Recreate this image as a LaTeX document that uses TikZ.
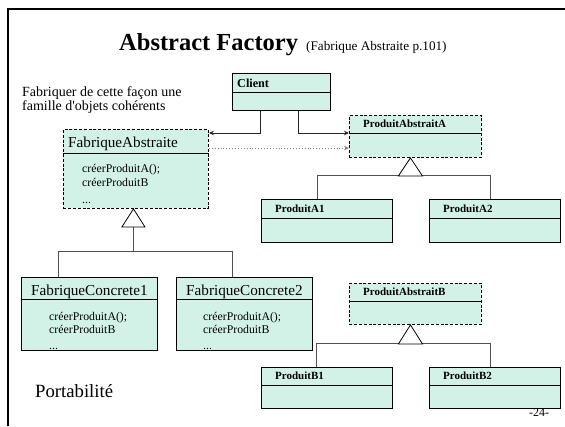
\documentclass[tikz,border=0pt]{standalone}
\usepackage{fontspec}
\setmainfont{Liberation Serif}
\usetikzlibrary{arrows.meta,calc}
\definecolor{boxfill}{RGB}{210,242,231}
\definecolor{inhline}{RGB}{80,80,80}
\definecolor{depline}{RGB}{130,130,130}
\tikzset{
  umlbox/.style={draw=black, line width=0.9pt, fill=boxfill, rectangle, inner sep=0pt, anchor=north west},
  abstractbox/.style={umlbox, dash pattern=on 3pt off 1.8pt},
  divider/.style={draw=black, line width=0.9pt},
  hdr/.style={anchor=base west, inner sep=0pt, font=\fontsize{11}{13}\selectfont\bfseries},
  bighdr/.style={anchor=base west, inner sep=0pt, font=\fontsize{15.2}{18}\selectfont},
  meth/.style={anchor=base west, inner sep=0pt, font=\fontsize{11.8}{14}\selectfont},
  tri/.style={draw=black, line width=0.8pt, fill=white},
  inh/.style={draw=inhline, line width=1pt},
  assoc/.style={draw=black!85, line width=0.9pt, -{Stealth[length=5pt,width=4.5pt]}},
  dep/.style={draw=depline, line width=0.9pt, dotted, -{Stealth[length=5pt,width=4.5pt]}},
  plain/.style={anchor=base west, inner sep=0pt}
}
\begin{document}
\begin{tikzpicture}[x=1pt,y=-1pt]
\useasboundingbox (0,0) rectangle (565,426);
\fill[white] (0,0) rectangle (565,426);
% frame
\draw[line width=2.6pt] (8,426) -- (8,9) -- (565,9);

% title
\node[plain, font=\fontsize{24.5}{28}\selectfont\bfseries] (title) at (119,50) {Abstract Factory};
\node[plain, font=\fontsize{13.2}{15}\selectfont] (subtitle) at (306,50) {(Fabrique Abstraite p.101)};

% intro text
\node[plain, font=\fontsize{14}{15}\selectfont] (intro1) at (22,96) {Fabriquer de cette façon une};
\node[plain, font=\fontsize{14}{15}\selectfont] (intro2) at (22,110) {famille d\textquotesingle objets cohérents};

\node[plain, font=\fontsize{18.7}{22}\selectfont] (porta) at (35,397) {Portabilité};

\node[plain, font=\fontsize{12}{14}\selectfont] (pagenum) at (529,416) {-24-};

% boxes
\node[umlbox, minimum width=98pt, minimum height=37pt] (client) at (232,73) {};
\draw[divider] ([yshift=-19pt]client.north west) -- ([yshift=-19pt]client.north east);
\node[hdr, font=\fontsize{12.2}{14}\selectfont\bfseries] (clientT) at ([xshift=5pt,yshift=-14pt]client.north west) {Client};

\node[abstractbox, minimum width=145pt, minimum height=79pt] (fa) at (63,129) {};
\draw[divider] ([yshift=-24pt]fa.north west) -- ([yshift=-24pt]fa.north east);
\node[bighdr] (faT) at ([xshift=5pt,yshift=-18pt]fa.north west) {FabriqueAbstraite};
\node[meth] (fam1) at ([xshift=19pt,yshift=-43pt]fa.north west) {créerProduitA();};
\node[meth] (fam2) at ([xshift=19pt,yshift=-57pt]fa.north west) {créerProduitB};
\node[meth] (fam3) at ([xshift=19pt,yshift=-74pt]fa.north west) {...};

\node[abstractbox, minimum width=132pt, minimum height=42pt] (pa) at (349,115) {};
\draw[divider] ([yshift=-18pt]pa.north west) -- ([yshift=-18pt]pa.north east);
\node[hdr] (paT) at ([xshift=14pt,yshift=-12pt]pa.north west) {ProduitAbstraitA};

\node[umlbox, minimum width=131pt, minimum height=43pt] (pa1) at (261,199) {};
\draw[divider] ([yshift=-19pt]pa1.north west) -- ([yshift=-19pt]pa1.north east);
\node[hdr] (pa1T) at ([xshift=14pt,yshift=-13pt]pa1.north west) {ProduitA1};

\node[umlbox, minimum width=131pt, minimum height=43pt] (pa2) at (429,199) {};
\draw[divider] ([yshift=-19pt]pa2.north west) -- ([yshift=-19pt]pa2.north east);
\node[hdr] (pa2T) at ([xshift=14pt,yshift=-13pt]pa2.north west) {ProduitA2};

\node[abstractbox, minimum width=132pt, minimum height=41pt] (pb) at (349,283) {};
\draw[divider] ([yshift=-18pt]pb.north west) -- ([yshift=-18pt]pb.north east);
\node[hdr] (pbT) at ([xshift=14pt,yshift=-12pt]pb.north west) {ProduitAbstraitB};

\node[umlbox, minimum width=131pt, minimum height=41pt] (pb1) at (261,367) {};
\draw[divider] ([yshift=-18pt]pb1.north west) -- ([yshift=-18pt]pb1.north east);
\node[hdr] (pb1T) at ([xshift=14pt,yshift=-12pt]pb1.north west) {ProduitB1};

\node[umlbox, minimum width=131pt, minimum height=41pt] (pb2) at (429,367) {};
\draw[divider] ([yshift=-18pt]pb2.north west) -- ([yshift=-18pt]pb2.north east);
\node[hdr] (pb2T) at ([xshift=14pt,yshift=-12pt]pb2.north west) {ProduitB2};

\node[umlbox, minimum width=136pt, minimum height=73pt] (fc1) at (21,277) {};
\draw[divider] ([yshift=-22pt]fc1.north west) -- ([yshift=-22pt]fc1.north east);
\node[bighdr] (fc1T) at ([xshift=10pt,yshift=-18pt]fc1.north west) {FabriqueConcrete1};
\node[meth] (fc1m1) at ([xshift=28pt,yshift=-43pt]fc1.north west) {créerProduitA();};
\node[meth] (fc1m2) at ([xshift=28pt,yshift=-56pt]fc1.north west) {créerProduitB};
\node[meth] (fc1m3) at ([xshift=28pt,yshift=-72pt]fc1.north west) {...};

\node[umlbox, minimum width=136pt, minimum height=73pt] (fc2) at (176,277) {};
\draw[divider] ([yshift=-22pt]fc2.north west) -- ([yshift=-22pt]fc2.north east);
\node[bighdr] (fc2T) at ([xshift=10pt,yshift=-18pt]fc2.north west) {FabriqueConcrete2};
\node[meth] (fc2m1) at ([xshift=27pt,yshift=-43pt]fc2.north west) {créerProduitA();};
\node[meth] (fc2m2) at ([xshift=27pt,yshift=-56pt]fc2.north west) {créerProduitB};
\node[meth] (fc2m3) at ([xshift=27pt,yshift=-72pt]fc2.north west) {...};

% inheritance: FabriqueAbstraite
\path ([xshift=-2.5pt]fa.south) coordinate (faapex) ++(0,18) coordinate (fabase);
\draw[inh] (fabase) -- ++(0,24);
\draw[inh] ([xshift=37pt]fc1.north west) -- ++(0,-26) -| ([xshift=56pt]fc2.north west);
\draw[tri] (faapex) -- ++(-11.5,18) -- ++(23,0) -- cycle;

% inheritance: ProduitAbstraitA
\path ([xshift=-5pt]pa.south) coordinate (paapex) ++(0,18) coordinate (pabase);
\draw[inh] ([xshift=56pt]pa1.north west) -- ++(0,-24) -| ([xshift=61pt]pa2.north west);
\draw[tri] (paapex) -- ++(-12,18) -- ++(24,0) -- cycle;

% inheritance: ProduitAbstraitB
\path ([xshift=-5pt]pb.south) coordinate (pbapex) ++(0,19) coordinate (pbbase);
\draw[inh] ([xshift=55pt]pb1.north west) -- ++(0,-24) -| ([xshift=61pt]pb2.north west);
\draw[tri] (pbapex) -- ++(-12,19) -- ++(24,0) -- cycle;

% associations
\draw[assoc] ([xshift=28pt]client.south west) |- ([yshift=-4pt]fa.north east);
\draw[assoc] ([xshift=-32pt]client.south east) |- ([yshift=-18pt]pa.north west);
\draw[dep] ([yshift=-19pt]fa.north east) -- ([yshift=-19pt]fa.north east -| pa.west);
\end{tikzpicture}
\end{document}
